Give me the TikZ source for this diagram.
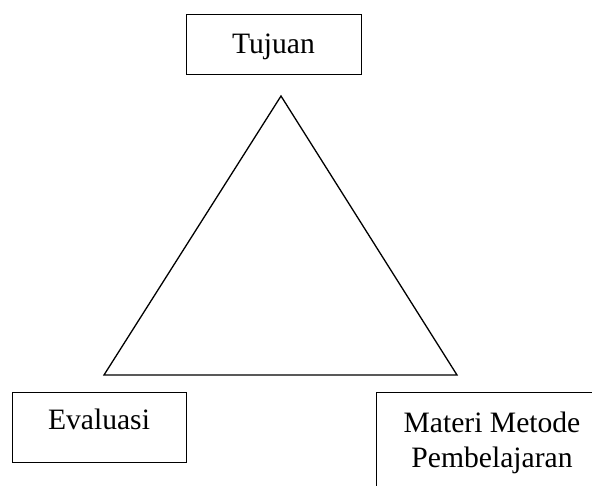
\documentclass[tikz,border=0pt]{standalone}
\usepackage{fontspec}
\setmainfont{Liberation Serif}
\begin{document}
\begin{tikzpicture}[x=1pt,y=-1pt,
  box/.style={draw, line width=1.3pt, inner sep=0pt},
  lbl/.style={inner sep=0pt, font=\fontsize{29.6}{35}\selectfont, align=center},
  tri/.style={line width=1.3pt, line join=miter}]
\useasboundingbox (0,0) rectangle (592,485);
% boxes
\node[box, minimum width=175pt, minimum height=60pt, anchor=north west] (tujuan) at (186,14) {};
\node[box, minimum width=174pt, minimum height=70pt, anchor=north west] (evaluasi) at (12,392) {};
\node[box, minimum width=232pt, minimum height=130pt, anchor=north west] (materi) at (376,392) {};
% texts
\node[lbl, anchor=base] (tujuantext) at (273.5,53) {Tujuan};
\node[lbl, anchor=base] (evaluasitext) at (99,429) {Evaluasi};
\node[lbl, anchor=north] (materitext) at (492,412) {Materi Metode\\Pembelajaran};
% triangle
\coordinate (apex) at (281,96);
\coordinate (bl) at (104,375);
\coordinate (br) at (457,375);
\draw[tri] (apex) -- (bl) -- (br) -- cycle;
\end{tikzpicture}
\end{document}
